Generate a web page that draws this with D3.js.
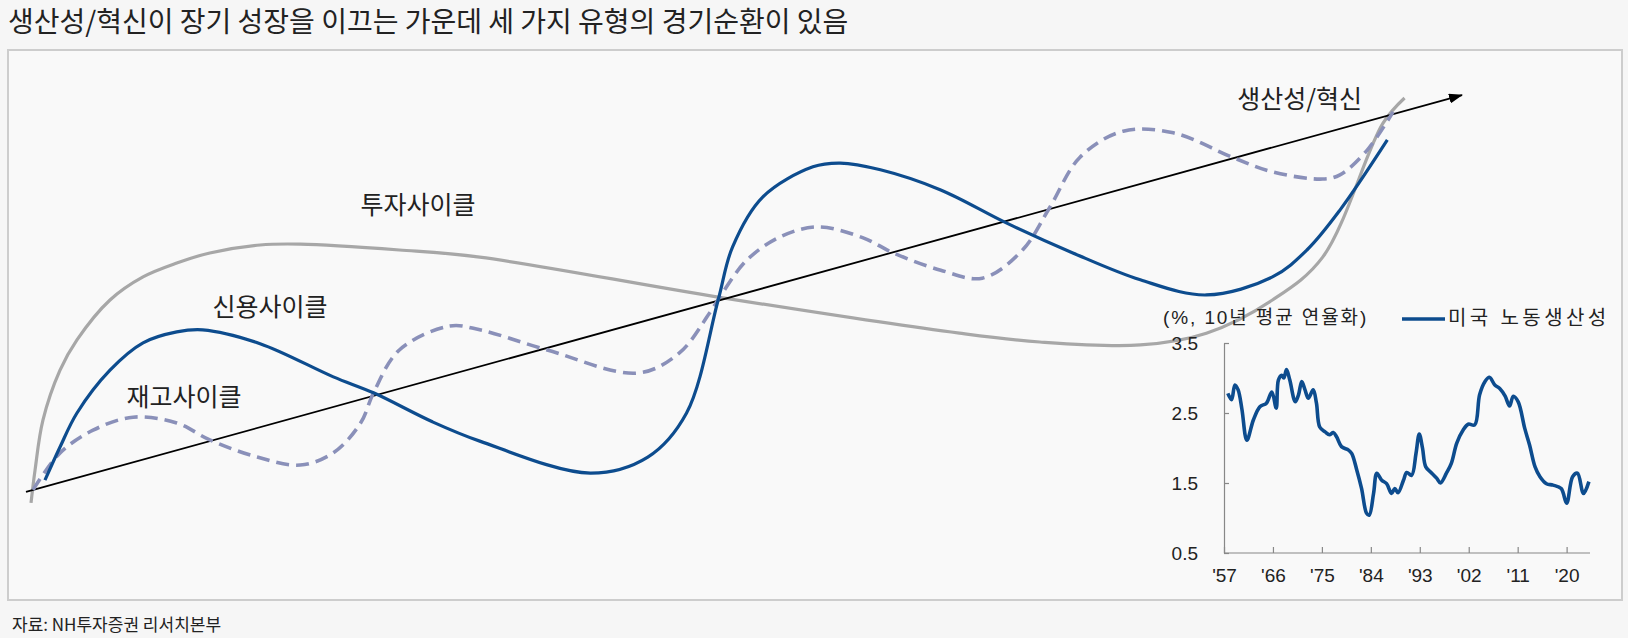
<!DOCTYPE html>
<html>
<head>
<meta charset="utf-8">
<script src="https://cdn.jsdelivr.net/npm/d3@7"></script>
<style>
  body { margin: 0; background: #f6f6f6; }
  svg { display: block; }
  .kr { font-family: "Noto Sans CJK KR", "Noto Sans", sans-serif; fill: #222; }
  .inset text { font-family: "Liberation Sans", "Noto Sans CJK KR", sans-serif; fill: #222; }
</style>
</head>
<body>
<div id="chart"></div>
<script>
// Schematic cycles, x = time (0..100), y = level (0..100)
const trendLine = [[0, 4.3], [100, 98.8]];

const investmentCycle = [
    [0.35, 1.7], [0.63, 9.5], [1.18, 21.4], [2.37, 33.3], [3.55, 40.5],
    [5.85, 50.0], [8.15, 55.5], [10.5, 58.8], [12.8, 61.2], [16.3, 63.1],
    [19.1, 63.3], [26.0, 61.9], [31.6, 60.2], [48.2, 50.7], [65.0, 42.1],
    [70.6, 40.0], [77.6, 39.3], [82.2, 42.1], [86.8, 50.0], [90.3, 60.2],
    [94.5, 92.1], [96.0, 98.1]
];

const creditCycle = [
    [1.32, 7.1], [2.37, 15.0], [3.55, 23.1], [5.85, 33.3], [8.15, 39.8],
    [10.5, 42.4], [12.3, 42.9], [16.3, 39.6], [21.4, 31.7],
    [24.2, 27.9], [28.3, 21.0], [31.6, 16.4], [39.3, 8.8], [43.3, 12.6],
    [46.0, 23.1], [48.2, 50.0], [49.2, 62.6], [51.3, 74.5], [54.8, 81.7],
    [56.7, 82.6], [59.5, 81.0], [63.7, 76.2], [68.3, 68.3], [72.9, 61.2],
    [77.6, 54.8], [82.2, 51.2], [86.8, 55.5], [89.2, 61.9], [91.5, 71.4],
    [94.8, 88.1]
];

const inventoryCycle = [
    [0.49, 4.8], [2.37, 13.6], [4.67, 19.0], [7.45, 22.1], [10.5, 20.7],
    [12.8, 16.7], [16.1, 12.6], [19.1, 10.7], [21.4, 13.6], [23.3, 20.7],
    [24.2, 27.9], [26.0, 38.1], [29.5, 43.8], [31.6, 42.9], [36.3, 38.1],
    [42.6, 32.6], [45.5, 37.4], [47.6, 46.9], [48.5, 51.7], [50.2, 59.5],
    [52.5, 65.0], [55.1, 67.4], [58.3, 64.8], [60.4, 61.2], [63.7, 57.1],
    [66.6, 55.2], [69.4, 61.9], [71.3, 72.1], [73.4, 84.0], [76.4, 90.2],
    [79.9, 89.8], [84.0, 84.0], [86.8, 80.5], [90.3, 78.8], [91.5, 79.8],
    [93.4, 85.7], [95.2, 94.8]
];

const cycleLabels = [
    {text: '투자사이클', t: 27.3, v: 73.1},
    {text: '신용사이클', t: 17.0, v: 48.8},
    {text: '재고사이클', t: 11.0, v: 27.4},
    {text: '생산성/혁신', t: 88.7, v: 98.3}
];

// Inset: US labour productivity, 10y annualised %
const prodYears = [
    1957.7, 1958.4, 1959.0, 1959.6, 1960.3, 1961.2, 1962.4, 1963.6, 1964.8, 1965.8,
    1966.6, 1967.0, 1967.6, 1968.0, 1968.5, 1969.1, 1970.1, 1970.7, 1971.3, 1971.9,
    1972.5, 1973.4, 1974.0, 1974.6, 1975.6, 1976.4, 1977.1, 1977.7, 1978.6, 1979.9,
    1980.5, 1981.4, 1982.3, 1983.2, 1983.7, 1984.5, 1985.1, 1986.0, 1986.9, 1987.8,
    1988.4, 1989.0, 1990.0, 1990.6, 1991.5, 1992.3, 1992.9, 1993.5, 1994.1, 1995.2,
    1996.1, 1996.8, 1997.9, 1998.8, 1999.8, 2001.0, 2001.9, 2003.1, 2004.0, 2005.0,
    2005.8, 2006.8, 2007.7, 2008.7, 2009.5, 2010.2, 2011.1, 2012.3, 2013.2, 2014.2,
    2015.1, 2016.3, 2017.5, 2019.0, 2020.0, 2021.1, 2022.0, 2023.1, 2024.1
];
const prodValues = [
    2.78, 2.69, 2.90, 2.83, 2.55, 2.11, 2.40, 2.59, 2.64, 2.80,
    2.57, 2.97, 3.04, 3.00, 3.12, 2.97, 2.66, 2.76, 2.95, 2.83,
    2.71, 2.83, 2.64, 2.30, 2.23, 2.19, 2.22, 2.16, 2.02, 1.97,
    1.92, 1.69, 1.42, 1.07, 1.04, 1.35, 1.64, 1.54, 1.49, 1.35,
    1.42, 1.36, 1.54, 1.65, 1.61, 1.92, 2.20, 2.00, 1.73, 1.64,
    1.57, 1.50, 1.64, 1.78, 2.07, 2.26, 2.34, 2.33, 2.76, 2.95,
    3.01, 2.90, 2.85, 2.74, 2.60, 2.74, 2.66, 2.28, 2.04, 1.73,
    1.59, 1.49, 1.47, 1.42, 1.21, 1.59, 1.64, 1.35, 1.52
];
const prodTickYears = [1957, 1966, 1975, 1984, 1993, 2002, 2011, 2020];
const prodTickValues = [0.5, 1.5, 2.5, 3.5];

const width = 1628;
const height = 638;
const blue = '#0d4c8e';
const dashBlue = '#8a90b9';
const grey = '#a7a7a7';

const svg = d3.select('#chart')
  .append('svg')
    .attr('width', width)
    .attr('height', height);

svg.append('rect')
    .attr('width', width)
    .attr('height', height)
    .attr('fill', '#f6f6f6');

// title
svg.append('text')
    .attr('class', 'kr')
    .attr('x', 8)
    .attr('y', 32)
    .attr('font-size', 28)
    .text('생산성/혁신이 장기 성장을 이끄는 가운데 세 가지 유형의 경기순환이 있음');

// frame
svg.append('rect')
    .attr('x', 8)
    .attr('y', 50)
    .attr('width', 1614)
    .attr('height', 550)
    .attr('fill', '#f9f9f9')
    .attr('stroke', '#cdcdcd')
    .attr('stroke-width', 2);

// source
svg.append('text')
    .attr('class', 'kr')
    .attr('x', 12)
    .attr('y', 631)
    .attr('font-size', 17)
    .attr('fill', '#333')
    .text('자료: NH투자증권 리서치본부');

// main schematic
const xScale = d3.scaleLinear().domain([0, 100]).range([26, 1462]);
const yScale = d3.scaleLinear().domain([0, 100]).range([510, 90]);

const cycleLine = d3.line()
    .x(d => xScale(d[0]))
    .y(d => yScale(d[1]))
    .curve(d3.curveCatmullRom.alpha(0.5));

svg.append('defs')
  .append('marker')
    .attr('id', 'arrow')
    .attr('viewBox', '0 0 14 10')
    .attr('refX', 13)
    .attr('refY', 5)
    .attr('markerWidth', 14)
    .attr('markerHeight', 10)
    .attr('markerUnits', 'userSpaceOnUse')
    .attr('orient', 'auto')
  .append('path')
    .attr('d', 'M0,0 L14,5 L0,10 Z')
    .attr('fill', '#000');

const main = svg.append('g').classed('main', true);

main.append('path')
    .datum(investmentCycle)
    .attr('d', cycleLine)
    .attr('fill', 'none')
    .attr('stroke', grey)
    .attr('stroke-width', 3.2);

main.append('path')
    .datum(trendLine)
    .attr('d', d3.line().x(d => xScale(d[0])).y(d => yScale(d[1])))
    .attr('stroke', '#000')
    .attr('stroke-width', 1.8)
    .attr('marker-end', 'url(#arrow)');

main.append('path')
    .datum(inventoryCycle)
    .attr('d', cycleLine)
    .attr('fill', 'none')
    .attr('stroke', dashBlue)
    .attr('stroke-width', 3.6)
    .attr('stroke-dasharray', '13,7');

main.append('path')
    .datum(creditCycle)
    .attr('d', cycleLine)
    .attr('fill', 'none')
    .attr('stroke', blue)
    .attr('stroke-width', 3.2);

main.selectAll('.cycle-label')
    .data(cycleLabels)
  .enter()
  .append('text')
    .attr('class', 'kr cycle-label')
    .attr('x', d => xScale(d.t))
    .attr('y', d => yScale(d.v))
    .attr('text-anchor', 'middle')
    .attr('dominant-baseline', 'central')
    .attr('font-size', 25)
    .text(d => d.text);

// inset chart
const inset = svg.append('g').classed('inset', true);

const insetX = d3.scaleLinear().domain([1957, 2024.3]).range([1224, 1590]);
const insetY = d3.scaleLinear().domain([0.5, 3.5]).range([553, 343]);

const xAxis = d3.axisBottom(insetX)
    .tickValues(prodTickYears)
    .tickSizeInner(-6)
    .tickSizeOuter(0)
    .tickPadding(16)
    .tickFormat(d => "'" + String(d).slice(2));

const yAxis = d3.axisLeft(insetY)
    .tickValues(prodTickValues)
    .tickSizeInner(-5)
    .tickSizeOuter(0)
    .tickPadding(26)
    .tickFormat(d3.format('.1f'));

const gx = inset.append('g')
    .attr('transform', `translate(0,${insetY(0.5)})`)
    .call(xAxis);
gx.select('.domain').attr('d', `M${insetX(1957)},0H${insetX(2024.3)}`);

inset.append('g')
    .attr('transform', `translate(${insetX(1957)},0)`)
    .call(yAxis);

inset.selectAll('.domain, .tick line')
    .attr('stroke', '#888')
    .attr('stroke-width', 1.2);
inset.selectAll('.tick text')
    .attr('font-size', 19)
    .attr('fill', '#222');

inset.append('path')
    .datum(prodYears.map((y, i) => [y, prodValues[i]]))
    .attr('d', d3.line()
        .x(d => insetX(d[0]))
        .y(d => insetY(d[1]))
        .curve(d3.curveCatmullRom.alpha(0.5)))
    .attr('fill', 'none')
    .attr('stroke', blue)
    .attr('stroke-width', 3.6)
    .attr('stroke-linejoin', 'round');

inset.append('text')
    .attr('x', 1163)
    .attr('y', 317)
    .attr('dominant-baseline', 'central')
    .attr('font-size', 19)
    .attr('letter-spacing', 1.9)
    .text('(%, 10년 평균 연율화)');

inset.append('line')
    .attr('x1', 1402)
    .attr('x2', 1445)
    .attr('y1', 319)
    .attr('y2', 319)
    .attr('stroke', blue)
    .attr('stroke-width', 3.6);

inset.append('text')
    .attr('x', 1448)
    .attr('y', 318)
    .attr('dominant-baseline', 'central')
    .attr('font-size', 20)
    .attr('letter-spacing', 3.4)
    .text('미국 노동생산성');
</script>
</body>
</html>
